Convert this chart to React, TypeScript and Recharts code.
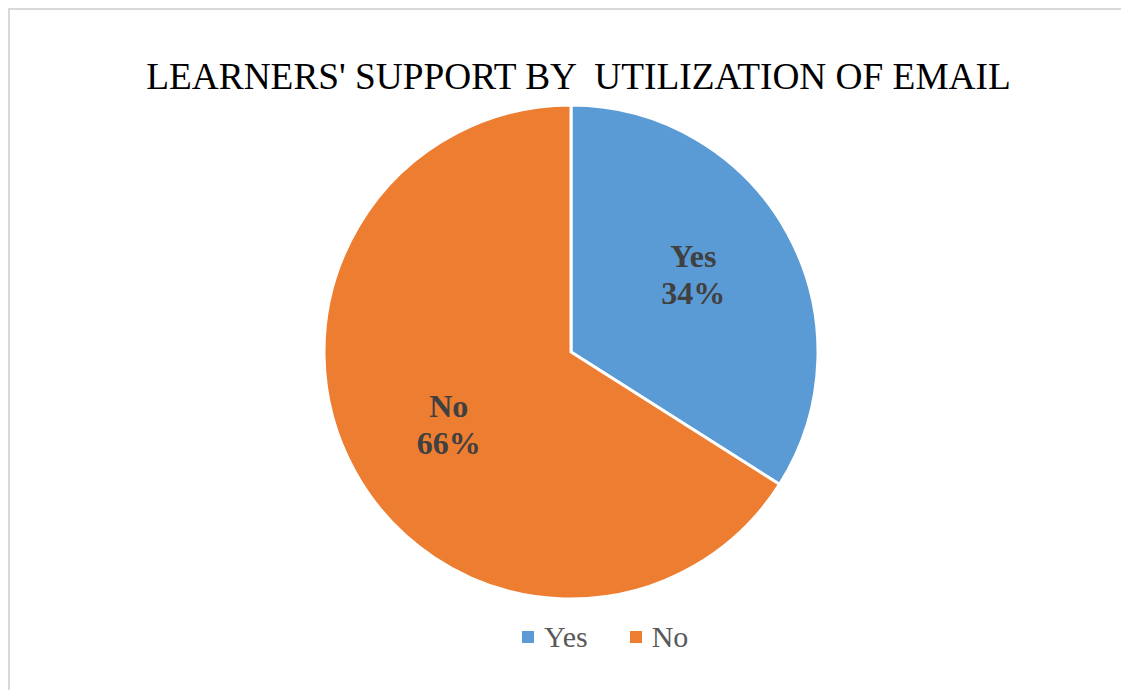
import React from 'react';
import { PieChart, Pie, Cell, Legend } from 'recharts';

const categories = ['Yes', 'No'];
const values = [34, 66];
const colors = ['#5B9BD5', '#ED7D31'];
const title = "LEARNERS' SUPPORT BY  UTILIZATION OF EMAIL";

const data = categories.map((name, i) => ({ name, value: values[i] }));

const RAD = Math.PI / 180;

const renderLabel = (props: any) => {
  const { cx, cy, midAngle, outerRadius, name, percent } = props;
  const rx = outerRadius * 0.565;
  const ry = outerRadius * 0.63;
  const x = cx + rx * Math.cos(-midAngle * RAD);
  const y = cy + ry * Math.sin(-midAngle * RAD);
  const b1 = y - 10;
  return (
    <text
      x={x}
      y={b1}
      textAnchor="middle"
      fill="#404040"
      style={{ fontFamily: '"Liberation Serif", "Times New Roman", serif', fontSize: 32, fontWeight: 'bold' }}
    >
      <tspan x={x} y={b1}>{name}</tspan>
      <tspan x={x} y={b1 + 37}>{`${Math.round(percent * 100)}%`}</tspan>
    </text>
  );
};

const renderLegend = () => {
  return (
    <div style={{ display: 'flex', alignItems: 'center' }}>
      {data.map((entry, i) => (
        <div key={entry.name} style={{ display: 'flex', alignItems: 'center', marginRight: 42 }}>
          <div style={{ width: 12, height: 12, background: colors[i], marginRight: 10 }} />
          <span
            style={{
              fontFamily: '"Liberation Serif", "Times New Roman", serif',
              fontSize: 30,
              lineHeight: '30px',
              color: '#595959',
            }}
          >
            {entry.name}
          </span>
        </div>
      ))}
    </div>
  );
};

export default function App() {
  return (
    <div
      style={{
        position: 'relative',
        width: 1121,
        height: 682,
        borderTop: '2px solid #d9d9d9',
        borderLeft: '2px solid #d9d9d9',
        boxSizing: 'border-box',
        background: '#fff',
        overflow: 'hidden',
      }}
    >
      <div
        style={{
          position: 'absolute',
          top: 48,
          left: 568.5,
          transform: 'translateX(-50%)',
          whiteSpace: 'pre',
          fontFamily: '"Liberation Serif", "Times New Roman", serif',
          fontSize: 37.3,
          lineHeight: '37px',
          color: '#000',
          zIndex: 2,
        }}
      >
        {title}
      </div>
      <PieChart width={1119} height={680} margin={{ top: 0, right: 0, bottom: 0, left: 0 }}>
        <Pie
          data={data}
          dataKey="value"
          nameKey="name"
          cx={561}
          cy={342}
          outerRadius={247}
          startAngle={90}
          endAngle={-270}
          stroke="#ffffff"
          strokeWidth={3}
          label={renderLabel}
          labelLine={false}
          isAnimationActive={false}
        >
          {data.map((d, i) => (
            <Cell key={d.name} fill={colors[i]} />
          ))}
        </Pie>
        <Legend
          content={renderLegend}
          wrapperStyle={{ top: 612, left: 512, bottom: 'auto', width: 'auto' }}
        />
      </PieChart>
    </div>
  );
}
